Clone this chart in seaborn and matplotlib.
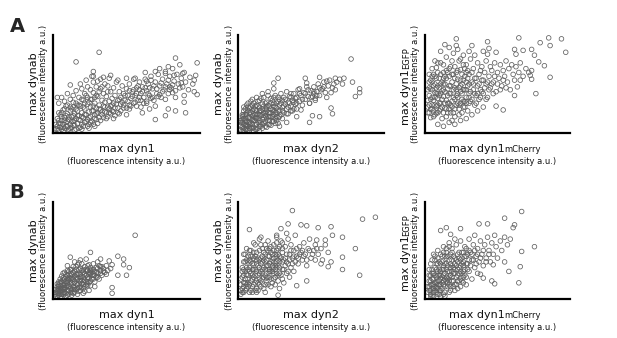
import matplotlib
matplotlib.use("Agg")
from matplotlib import pyplot as plt
import seaborn as sns

# values, in 0-100 units of each panel's axes
a1_pts = [
    (1, 3), (2, 6), (3, 2), (3, 9), (4, 5), (5, 12), (5, 3), (6, 8), (7, 15), (7, 4), (8, 10), (9, 6), (9, 19),
    (10, 13), (10, 3), (11, 8), (11, 22), (12, 16), (12, 5), (13, 11), (13, 26), (14, 19), (14, 7), (15, 14),
    (15, 30), (16, 9), (16, 22), (17, 17), (17, 4), (18, 12), (18, 27), (19, 20), (19, 8), (20, 15), (20, 33),
    (21, 24), (21, 10), (22, 18), (22, 38), (23, 13), (23, 29), (24, 21), (24, 8), (25, 26), (25, 16), (26, 34),
    (26, 11), (27, 22), (27, 41), (28, 18), (28, 30), (29, 13), (29, 25), (30, 37), (30, 20), (31, 28), (31, 15),
    (32, 45), (32, 23), (33, 33), (33, 18), (34, 27), (34, 40), (35, 21), (35, 31), (36, 14), (36, 37), (37, 26),
    (37, 48), (38, 20), (38, 32), (39, 42), (39, 27), (40, 35), (40, 22), (41, 46), (41, 30), (42, 38), (42, 25),
    (43, 52), (44, 33), (44, 20), (45, 42), (46, 29), (46, 36), (47, 48), (48, 25), (48, 40), (49, 33), (50, 45),
    (50, 18), (51, 38), (52, 28), (52, 50), (53, 35), (54, 42), (55, 30), (55, 55), (56, 38), (57, 46), (58, 33),
    (59, 52), (60, 40), (60, 26), (61, 47), (62, 36), (63, 55), (64, 43), (64, 30), (65, 50), (66, 38), (67, 58),
    (68, 45), (69, 33), (70, 52), (71, 40), (72, 60), (73, 48), (74, 36), (75, 55), (76, 44), (77, 63), (78, 50),
    (79, 40), (80, 58), (81, 46), (82, 66), (83, 53), (84, 43), (85, 60), (86, 50), (88, 56), (89, 47), (90, 62),
    (91, 52), (93, 44), (94, 57), (96, 50), (97, 42),
    (2, 14), (4, 18), (6, 23), (8, 27), (3, 30), (5, 36), (7, 32), (9, 40), (11, 34), (13, 38), (15, 43), (17, 36),
    (19, 45), (21, 40), (23, 47), (25, 44), (27, 52), (29, 47), (6, 1), (10, 1), (14, 2), (19, 3), (24, 4), (28, 6),
    (8, 17), (12, 24), (16, 28), (20, 26), (24, 31), (28, 36), (18, 50), (22, 54), (26, 58), (30, 53), (34, 57),
    (38, 56),
    (1, 8), (2, 3), (3, 12), (4, 9), (5, 16), (6, 5), (7, 12), (8, 6), (9, 11), (10, 16), (11, 4), (12, 11),
    (13, 7), (13, 17), (14, 12), (15, 3), (16, 17), (17, 13), (18, 5), (19, 16), (20, 6), (21, 18), (22, 11),
    (23, 6), (24, 15), (25, 10), (26, 22), (27, 8), (28, 14), (29, 19), (30, 9), (31, 24), (32, 12), (33, 21),
    (34, 15), (35, 26), (36, 20), (37, 16), (38, 24), (39, 19), (40, 28), (41, 21), (42, 17), (43, 29), (44, 25),
    (45, 34), (46, 22), (47, 31), (48, 28), (49, 38), (50, 25), (51, 32), (52, 43), (53, 27), (54, 37), (55, 44),
    (56, 31), (57, 40), (58, 48), (59, 36), (60, 33), (61, 42), (62, 30), (63, 46), (65, 40), (66, 46), (67, 35),
    (69, 48), (71, 45), (72, 37), (74, 51), (75, 42), (77, 47), (79, 54), (80, 44), (82, 49), (3, 20), (5, 20),
    (7, 24), (9, 28), (11, 26), (13, 31), (15, 24), (17, 28), (19, 34), (21, 30), (23, 36), (25, 34), (27, 27),
    (29, 38), (31, 42), (33, 47), (35, 50), (37, 42),
    (31, 83), (15, 73), (84, 77), (99, 72), (87, 70), (79, 68), (73, 66), (70, 63), (63, 62), (77, 61), (83, 59),
    (89, 61), (97, 54), (99, 39), (87, 46), (90, 38), (90, 31), (91, 20), (84, 22), (79, 24), (70, 13), (77, 17),
    (11, 49), (2, 36), (27, 63), (27, 58), (32, 55), (39, 59), (44, 54), (50, 56), (56, 56), (59, 44), (64, 53),
    (67, 54), (80, 47), (82, 41), (73, 39), (68, 36), (64, 32), (57, 27), (52, 24), (45, 19), (41, 14), (61, 20),
    (66, 24), (70, 27), (77, 34), (84, 36), (88, 51), (98, 59),
]

a2_pts = [
    (1, 2), (2, 5), (2, 10), (3, 1), (3, 14), (4, 7), (4, 18), (5, 3), (5, 11), (6, 22), (6, 6), (7, 15), (7, 2),
    (8, 9), (8, 26), (9, 13), (9, 4), (10, 19), (10, 30), (11, 8), (11, 23), (12, 14), (12, 3), (13, 27), (13, 10),
    (14, 18), (14, 33), (15, 6), (15, 22), (16, 13), (16, 29), (17, 9), (17, 36), (18, 17), (18, 24), (19, 5),
    (19, 31), (20, 12), (20, 20), (21, 27), (21, 8), (22, 16), (22, 35), (23, 23), (23, 11), (24, 30), (24, 18),
    (25, 14), (25, 38), (26, 25), (26, 20), (27, 32), (27, 15), (28, 28), (28, 22), (29, 18), (29, 40), (30, 26),
    (30, 33), (31, 20), (31, 36), (32, 29), (33, 24), (33, 42), (34, 31), (34, 19), (35, 37), (36, 27), (37, 33),
    (37, 22), (38, 40), (39, 29), (40, 36), (40, 24), (41, 44), (42, 32), (43, 38), (44, 28), (45, 41), (46, 34),
    (47, 47), (48, 37), (49, 30), (50, 43), (51, 37), (52, 47), (53, 33), (54, 42), (55, 50), (56, 38), (58, 45),
    (59, 52), (60, 41), (62, 48), (63, 54), (65, 46), (66, 50), (68, 52), (70, 55), (72, 50),
    (1, 7), (2, 13), (3, 18), (4, 24), (5, 28), (6, 15), (7, 20), (8, 32), (9, 22), (11, 15), (12, 28), (13, 19),
    (14, 25), (15, 35), (16, 4), (17, 20), (18, 11), (19, 26), (20, 38), (21, 16), (22, 7), (23, 33), (24, 11),
    (25, 27), (26, 12), (6, 2), (10, 1), (14, 1), (12, 36), (16, 40), (20, 42), (24, 45), (3, 4), (5, 8), (7, 10),
    (9, 17), (11, 27), (13, 4), (27, 9), (30, 14),
    (1, 10), (2, 1), (2, 16), (3, 8), (3, 22), (4, 3), (4, 12), (5, 18), (5, 6), (6, 10), (6, 26), (7, 4), (7, 25),
    (8, 14), (8, 20), (9, 8), (9, 28), (10, 5), (10, 12), (11, 18), (11, 3), (12, 8), (12, 22), (13, 14), (13, 32),
    (14, 6), (14, 22), (15, 17), (15, 10), (16, 24), (16, 8), (17, 15), (17, 27), (18, 6), (18, 20), (19, 14),
    (19, 22), (20, 8), (20, 28), (21, 12), (21, 20), (22, 24), (22, 30), (23, 16), (24, 22), (24, 36), (25, 20),
    (25, 9), (26, 30), (27, 22), (27, 36), (28, 16), (29, 30), (30, 22), (31, 27), (32, 34), (33, 19), (34, 26),
    (35, 30), (36, 22), (36, 36), (38, 31), (38, 24), (40, 30), (42, 40), (44, 34), (46, 40), (48, 44), (50, 36),
    (52, 42), (54, 38), (56, 46), (1, 12), (2, 18), (3, 26), (4, 14), (5, 20), (6, 30), (7, 8), (8, 4), (9, 34),
    (10, 24), (11, 12), (12, 18), (14, 12), (16, 18), (18, 30), (20, 16), (22, 20), (24, 26), (26, 16), (28, 34),
    (78, 76), (24, 51), (27, 56), (46, 56), (47, 51), (56, 57), (61, 53), (67, 56), (73, 56), (79, 52), (84, 45),
    (84, 41), (81, 37), (67, 44), (64, 41), (61, 36), (64, 25), (65, 19), (56, 16), (51, 17), (49, 10), (42, 45),
    (36, 40), (39, 35), (52, 40), (57, 44), (59, 47), (53, 35), (49, 30), (43, 23), (40, 16), (33, 10), (28, 6),
]

a3_pts = [
    (1, 20), (2, 28), (2, 38), (3, 15), (3, 45), (4, 24), (4, 52), (5, 33), (5, 60), (6, 18), (6, 41), (7, 27),
    (7, 67), (8, 48), (8, 35), (9, 22), (9, 56), (10, 30), (10, 72), (11, 43), (11, 14), (12, 37), (12, 62),
    (13, 25), (13, 50), (14, 78), (14, 33), (15, 45), (15, 20), (16, 58), (16, 40), (17, 28), (17, 68), (18, 52),
    (18, 12), (19, 36), (19, 82), (20, 46), (20, 24), (21, 62), (21, 38), (22, 30), (22, 55), (23, 74), (23, 18),
    (24, 42), (24, 65), (25, 34), (25, 50), (26, 26), (26, 80), (27, 44), (27, 58), (28, 36), (28, 70), (29, 22),
    (29, 48), (30, 60), (30, 40), (31, 32), (31, 76), (32, 52), (33, 44), (33, 66), (34, 28), (34, 56), (35, 38),
    (36, 72), (36, 48), (37, 60), (37, 34), (38, 44), (39, 54), (39, 68), (40, 40), (41, 62), (42, 50), (42, 74),
    (43, 36), (44, 58), (45, 46), (45, 68), (46, 64), (47, 52), (48, 72), (49, 42), (50, 62), (51, 56), (52, 70),
    (53, 48), (54, 64), (55, 58), (56, 74), (57, 52), (58, 66), (59, 44), (60, 70), (61, 60), (62, 54), (63, 68),
    (65, 62), (66, 72), (68, 58), (70, 66), (72, 62),
    (1, 33), (2, 52), (3, 24), (4, 36), (5, 16), (6, 28), (7, 46), (8, 20), (9, 38), (10, 50), (11, 26), (12, 44),
    (13, 58), (14, 16), (15, 30), (16, 24), (17, 48), (18, 32), (19, 60), (20, 16), (21, 44), (22, 40), (23, 28),
    (24, 54), (25, 20), (26, 44), (27, 32), (28, 52), (29, 64), (30, 30), (8, 8), (12, 6), (16, 10), (20, 8),
    (24, 12), (28, 14), (32, 18), (36, 22), (40, 26), (10, 84), (16, 88), (22, 86), (6, 74), (4, 66), (12, 70),
    (18, 74), (30, 84), (26, 70), (34, 80), (40, 84),
    (1, 26), (1, 44), (2, 20), (2, 60), (3, 34), (3, 54), (4, 28), (4, 44), (5, 22), (5, 48), (6, 36), (6, 58),
    (7, 20), (7, 40), (7, 56), (8, 28), (8, 62), (9, 30), (9, 46), (10, 24), (10, 40), (10, 60), (11, 34), (11, 52),
    (12, 20), (12, 50), (13, 42), (13, 30), (14, 56), (14, 24), (15, 38), (15, 62), (16, 30), (16, 48), (17, 20),
    (17, 40), (18, 26), (18, 60), (19, 44), (19, 20), (20, 34), (20, 56), (21, 28), (21, 50), (22, 36), (22, 64),
    (23, 46), (23, 24), (24, 30), (24, 48), (25, 40), (25, 60), (26, 32), (26, 54), (27, 26), (27, 66), (28, 44),
    (28, 30), (29, 56), (30, 36), (30, 50), (31, 42), (32, 62), (32, 34), (33, 50), (34, 40), (35, 56), (35, 30),
    (36, 40), (37, 50), (38, 36), (38, 64), (39, 42), (40, 54), (41, 46), (42, 34), (43, 52), (44, 44), (46, 50),
    (47, 40), (48, 58), (50, 50), (52, 44), (54, 54), (56, 46), (2, 46), (4, 58), (6, 50), (8, 40), (12, 56),
    (16, 66), (20, 68), (24, 76), (28, 62), (8, 72), (14, 64),
    (21, 97), (13, 91), (21, 90), (32, 90), (43, 94), (65, 98), (86, 98), (95, 97), (87, 90), (80, 93), (98, 83),
    (44, 87), (49, 83), (43, 81), (62, 86), (63, 81), (68, 85), (74, 86), (76, 80), (79, 73), (83, 69), (74, 64),
    (73, 59), (74, 55), (87, 57), (77, 40), (66, 54), (64, 47), (62, 38), (54, 23), (49, 27),
]

b1_pts = [
    (1, 2), (2, 5), (2, 9), (3, 3), (3, 12), (4, 7), (4, 16), (5, 4), (5, 10), (6, 14), (6, 19), (7, 6), (7, 11),
    (8, 17), (8, 22), (9, 8), (9, 13), (10, 19), (10, 25), (11, 10), (11, 15), (12, 21), (12, 6), (13, 27),
    (13, 12), (14, 17), (14, 23), (15, 9), (15, 30), (16, 14), (16, 20), (17, 25), (17, 11), (18, 18), (18, 31),
    (19, 15), (19, 23), (20, 10), (20, 27), (21, 19), (21, 33), (22, 14), (22, 24), (23, 29), (23, 17), (24, 21),
    (24, 35), (25, 26), (25, 13), (26, 30), (26, 20), (27, 24), (27, 36), (28, 17), (28, 28), (29, 32), (29, 22),
    (30, 26), (31, 20), (31, 34), (32, 29), (33, 24), (34, 31), (35, 27), (36, 34), (37, 29), (39, 31),
    (1, 6), (2, 12), (3, 17), (4, 20), (5, 23), (6, 9), (7, 27), (8, 13), (9, 29), (10, 8), (11, 30), (12, 16),
    (13, 33), (14, 11), (15, 20), (16, 35), (17, 7), (18, 25), (19, 36), (20, 17), (21, 12), (22, 30), (23, 22),
    (24, 16), (25, 32), (26, 24), (4, 1), (8, 2), (12, 3), (16, 4), (20, 5), (24, 8), (28, 12), (6, 26), (9, 34),
    (14, 38), (18, 40), (10, 4), (14, 6), (18, 8), (3, 8), (6, 4), (7, 17), (11, 21), (15, 25), (19, 29), (23, 34),
    (1, 4), (1, 9), (2, 7), (2, 15), (3, 5), (3, 10), (4, 4), (4, 13), (5, 8), (5, 17), (6, 6), (6, 11), (7, 9),
    (7, 20), (8, 5), (8, 11), (9, 16), (9, 24), (10, 12), (10, 21), (11, 6), (11, 18), (12, 9), (12, 25), (13, 15),
    (13, 20), (14, 9), (14, 28), (15, 15), (15, 22), (16, 10), (16, 25), (17, 18), (17, 30), (18, 12), (18, 22),
    (19, 19), (20, 14), (20, 22), (21, 25), (22, 17), (22, 28), (23, 20), (24, 25), (25, 18), (25, 29), (26, 27),
    (27, 20), (27, 30), (28, 24), (29, 27), (30, 31), (30, 22), (32, 26), (33, 33), (34, 28), (2, 2), (5, 1),
    (9, 3), (13, 5), (17, 15), (6, 21), (8, 25), (10, 28), (12, 30), (15, 33), (20, 30), (24, 27), (19, 11),
    (23, 13), (21, 7), (3, 14), (4, 10), (7, 14), (9, 19), (11, 24), (13, 9),
    (56, 66), (25, 48), (11, 43), (17, 37), (22, 41), (32, 41), (38, 39), (44, 44), (48, 41), (40, 35), (48, 35),
    (52, 32), (50, 24), (44, 24), (36, 25), (40, 11), (40, 5), (32, 33), (30, 38),
]

b2_pts = [
    (1, 4), (2, 10), (2, 22), (3, 16), (3, 30), (4, 8), (4, 38), (5, 25), (5, 14), (6, 44), (6, 20), (7, 32),
    (7, 6), (8, 26), (8, 50), (9, 12), (9, 36), (10, 22), (10, 42), (11, 30), (11, 8), (12, 18), (12, 48),
    (13, 34), (13, 24), (14, 40), (14, 14), (15, 28), (15, 56), (16, 20), (16, 44), (17, 32), (17, 10), (18, 38),
    (18, 24), (19, 52), (19, 16), (20, 30), (20, 44), (21, 22), (21, 36), (22, 12), (22, 48), (23, 28), (23, 40),
    (24, 20), (24, 56), (25, 34), (25, 46), (26, 26), (26, 38), (27, 18), (27, 52), (28, 32), (28, 44), (29, 24),
    (29, 60), (30, 38), (30, 48), (31, 30), (32, 42), (32, 54), (33, 26), (34, 36), (34, 62), (35, 46), (36, 32),
    (36, 56), (37, 42), (38, 50), (38, 28), (39, 66), (40, 44), (41, 36), (42, 54), (43, 48), (44, 40), (45, 58),
    (46, 46), (47, 34), (48, 52), (49, 62), (50, 42), (52, 50), (53, 56), (55, 46), (57, 52), (58, 40), (60, 56),
    (62, 48),
    (1, 14), (2, 32), (3, 46), (4, 20), (5, 52), (6, 12), (7, 40), (8, 18), (9, 44), (10, 30), (11, 56), (12, 36),
    (13, 8), (14, 26), (15, 42), (16, 30), (17, 48), (18, 14), (19, 34), (20, 22), (21, 52), (22, 28), (23, 16),
    (24, 42), (25, 22), (26, 50), (27, 34), (28, 10), (30, 20), (3, 6), (6, 30), (9, 24), (12, 10), (15, 12),
    (18, 6), (21, 28), (24, 32), (27, 40), (10, 58), (14, 62), (20, 60), (26, 64), (33, 68), (31, 16), (35, 22),
    (4, 28), (7, 50), (11, 16),
    (1, 8), (1, 20), (2, 6), (2, 28), (3, 12), (3, 38), (4, 16), (4, 46), (5, 10), (5, 32), (6, 24), (6, 38),
    (7, 14), (7, 28), (8, 8), (8, 38), (9, 20), (9, 30), (10, 14), (10, 36), (11, 24), (11, 44), (12, 28), (12, 6),
    (13, 16), (13, 42), (14, 32), (14, 20), (15, 36), (15, 18), (16, 26), (16, 38), (17, 22), (17, 40), (18, 30),
    (18, 46), (19, 22), (19, 40), (20, 34), (20, 14), (21, 30), (21, 44), (22, 20), (22, 38), (23, 34), (23, 46),
    (24, 26), (24, 38), (25, 30), (25, 14), (26, 44), (26, 32), (27, 24), (27, 46), (28, 38), (28, 26), (29, 42),
    (30, 30), (30, 52), (31, 40), (32, 34), (33, 46), (33, 38), (34, 28), (35, 40), (36, 50), (37, 36), (38, 44),
    (39, 38), (40, 52), (41, 42), (42, 46), (44, 50), (45, 44), (47, 40), (49, 50), (51, 46), (54, 52), (3, 24),
    (5, 40), (6, 16), (8, 44), (9, 6), (10, 48), (12, 40), (14, 50), (16, 52), (18, 56), (20, 50), (22, 54),
    (24, 50), (26, 58), (28, 54), (30, 58),
    (37, 92), (95, 85), (86, 83), (7, 72), (29, 73), (34, 78), (43, 77), (47, 76), (55, 74), (64, 75), (65, 66),
    (72, 64), (60, 61), (54, 61), (81, 52), (72, 43), (72, 30), (84, 24), (64, 38), (62, 33), (57, 36), (53, 40),
    (47, 18), (40, 13), (27, 3), (15, 64), (26, 66),
]

b3_pts = [
    (2, 8), (3, 14), (3, 4), (4, 20), (4, 10), (5, 26), (5, 6), (6, 16), (6, 32), (7, 11), (7, 22), (8, 4),
    (8, 28), (9, 14), (9, 38), (10, 20), (10, 8), (11, 30), (11, 44), (12, 14), (12, 24), (13, 36), (13, 6),
    (14, 18), (14, 48), (15, 28), (15, 12), (16, 40), (16, 22), (17, 32), (17, 8), (18, 52), (18, 18), (19, 26),
    (19, 44), (20, 14), (20, 36), (21, 22), (21, 56), (22, 30), (22, 10), (23, 42), (23, 18), (24, 34), (24, 60),
    (25, 26), (25, 48), (26, 16), (26, 38), (27, 30), (27, 54), (28, 22), (28, 44), (29, 36), (30, 62), (30, 28),
    (31, 48), (32, 40), (32, 20), (33, 56), (34, 32), (34, 66), (35, 44), (36, 26), (36, 52), (37, 38), (38, 60),
    (39, 46), (40, 34), (41, 56), (42, 42), (43, 64), (44, 50), (45, 38), (46, 58), (47, 46), (48, 66), (49, 54),
    (50, 42), (52, 60), (53, 50), (55, 64), (57, 56), (59, 62),
    (1, 12), (2, 18), (3, 24), (4, 30), (5, 14), (6, 40), (7, 36), (8, 18), (9, 24), (10, 28), (11, 16), (12, 34),
    (13, 20), (14, 30), (15, 20), (16, 14), (17, 24), (18, 34), (19, 12), (20, 26), (21, 40), (22, 24), (23, 32),
    (24, 20), (25, 36), (26, 28), (4, 2), (8, 10), (12, 4), (16, 6), (20, 8), (24, 12), (28, 14), (5, 46), (8, 50),
    (12, 54), (16, 58), (20, 62), (10, 2), (6, 8), (14, 42), (18, 28), (22, 46), (26, 48), (30, 50),
    (1, 6), (2, 12), (2, 24), (3, 8), (3, 18), (4, 14), (4, 26), (5, 10), (5, 20), (6, 12), (6, 24), (7, 6),
    (7, 16), (7, 30), (8, 14), (8, 24), (8, 36), (9, 8), (9, 18), (9, 30), (10, 14), (10, 24), (10, 36), (11, 10),
    (11, 22), (11, 38), (12, 18), (12, 30), (13, 12), (13, 26), (13, 44), (14, 22), (14, 36), (15, 16), (15, 34),
    (15, 44), (16, 28), (16, 18), (17, 12), (17, 36), (17, 46), (18, 22), (18, 40), (19, 32), (19, 18), (20, 42),
    (20, 30), (21, 14), (21, 34), (22, 18), (22, 38), (23, 26), (23, 48), (24, 28), (24, 40), (25, 18), (25, 42),
    (26, 34), (26, 22), (27, 44), (27, 24), (28, 36), (28, 52), (29, 30), (29, 46), (30, 40), (31, 34), (32, 46),
    (33, 40), (34, 50), (35, 36), (36, 46), (38, 42), (40, 50), (42, 38), (44, 46), (2, 30), (3, 36), (4, 40),
    (6, 44), (8, 42), (10, 46), (12, 48), (14, 52), (16, 54), (18, 48), (5, 2), (9, 4), (13, 2), (3, 2),
    (67, 91), (55, 84), (62, 77), (61, 74), (43, 78), (37, 78), (24, 73), (14, 74), (10, 71), (17, 67), (76, 54),
    (67, 49), (66, 33), (65, 16), (58, 28), (55, 38), (47, 35), (46, 18), (48, 15), (40, 21), (38, 25),
]

x_names = ["max dyn1", "max dyn2", "max dyn1"]
x_subs = [None, None, "mCherry"]
y_names = ["max dynab", "max dynab", "max dyn1"]
y_subs = [None, None, "EGFP"]
unit_label = "(fluorescence intensity a.u.)"
row_letters = ["A", "B"]

sns.set_style("white")
plt.rcParams["font.family"] = ["DejaVu Sans"]

W, H = 617, 338
fig = plt.figure(figsize=(W / 100, H / 100), dpi=100)


def fx(px):
    return px / W


def fy(px):
    return 1 - px / H


# pixel boxes of the axes (left, right) and rows (top, bottom)
cols = [(53, 200), (238, 384), (425, 570)]
rows = [(35, 133), (202, 299)]
data = [[a1_pts, a2_pts, a3_pts], [b1_pts, b2_pts, b3_pts]]
txt = dict(color="#111111")

for r, (top, bottom) in enumerate(rows):
    fig.text(fx(17), fy(top - 9), row_letters[r], fontsize=14, fontweight="bold", ha="center", va="center")
    for c, (left, right) in enumerate(cols):
        ax = fig.add_axes([fx(left), fy(bottom), fx(right - left), (bottom - top) / H])
        pts = data[r][c]
        xs = [p[0] for p in pts]
        ys = [p[1] for p in pts]
        sns.scatterplot(x=xs, y=ys, ax=ax, marker="o", s=11, facecolor="none",
                        edgecolor="#5f5f5f", linewidth=0.55, clip_on=False)
        ax.set_xlim(-1, 101)
        ax.set_ylim(-1, 101)
        ax.set_xticks([])
        ax.set_yticks([])
        for side in ["top", "right"]:
            ax.spines[side].set_visible(False)
        for side in ["left", "bottom"]:
            ax.spines[side].set_linewidth(1.6)
            ax.spines[side].set_color("black")

        # x label, baseline about 18 px under the axis
        cx = (left + right) / 2
        base_y = fy(bottom + 18.5)
        if x_subs[c]:
            fig.text(fx(cx + 7), base_y, x_names[c], fontsize=8, ha="right", va="baseline", **txt)
            fig.text(fx(cx + 7), base_y, x_subs[c], fontsize=6, ha="left", va="baseline", **txt)
        else:
            fig.text(fx(cx), base_y, x_names[c], fontsize=8, ha="center", va="baseline", **txt)
        fig.text(fx(cx), fy(bottom + 29), unit_label, fontsize=6, ha="center", va="center", **txt)

        # y label, rotated, baseline about 16 px left of the axis
        cy = (top + bottom) / 2
        base_x = fx(left - 16)
        if y_subs[c]:
            fig.text(base_x, fy(cy - 15), y_names[c], fontsize=8, rotation=90, rotation_mode="anchor",
                     ha="right", va="baseline", **txt)
            fig.text(base_x, fy(cy - 15), y_subs[c], fontsize=6, rotation=90, rotation_mode="anchor",
                     ha="left", va="baseline", **txt)
        else:
            fig.text(base_x, fy(cy), y_names[c], fontsize=8, rotation=90, rotation_mode="anchor",
                     ha="center", va="baseline", **txt)
        fig.text(fx(left - 9), fy(cy), unit_label, fontsize=6, rotation=90, ha="center", va="center", **txt)

fig.savefig("out.png", dpi=100)
